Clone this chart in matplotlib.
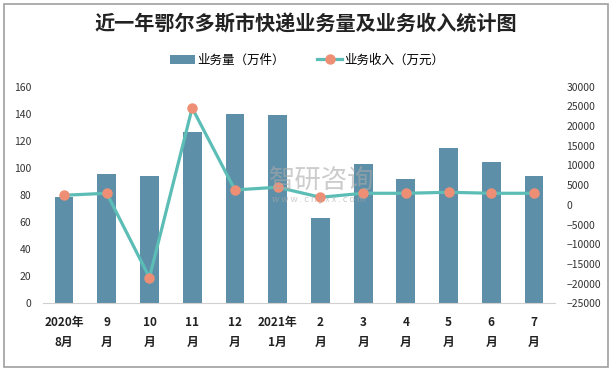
import matplotlib
matplotlib.use("Agg")
import matplotlib.pyplot as plt
from matplotlib.patches import Rectangle

plt.rcParams['font.family'] = ['Noto Sans CJK SC', 'DejaVu Sans']

categories = ["2020年\n8月", "9\n月", "10\n月", "11\n月", "12\n月", "2021年\n1月",
              "2\n月", "3\n月", "4\n月", "5\n月", "6\n月", "7\n月"]
volume = [78.3, 95.7, 93.8, 126.3, 139.6, 138.8, 62.8, 102.7, 91.6, 114.5, 104.1, 93.8]
revenue = [2420, 2930, -18460, 24580, 3780, 4460, 1910, 2930, 2930, 3180, 2930, 2930]
left_ticks = [0, 20, 40, 60, 80, 100, 120, 140, 160]
right_ticks = list(range(-25000, 30001, 5000))

bar_color = '#5e8fa8'
line_color = '#5bbdb5'
marker_color = '#ee8f75'

fig = plt.figure(figsize=(6.12, 3.71), dpi=100)
ax = fig.add_axes([0.0696, 0.1825, 0.838, 0.584])
x = list(range(len(categories)))
ax.bar(x, volume, width=0.44, color=bar_color, zorder=2, label='业务量（万件）')
ax.set_xlim(-0.5, len(categories) - 0.5)
ax.set_ylim(0, 160)
ax.set_yticks(left_ticks)
ax.set_xticks(x)
ax.set_xticklabels(categories, fontweight='bold', fontsize=8.5, linespacing=1.75)
ax.tick_params(axis='y', length=0, labelsize=7.5, colors='#333333', pad=8)
ax.tick_params(axis='x', length=0, pad=9, colors='#222222')
for s in ['top', 'right', 'left']:
    ax.spines[s].set_visible(False)
ax.spines['bottom'].set_color('#d0d0d0')

ax2 = ax.twinx()
ax2.plot(x, revenue, color=line_color, lw=2.3, marker='o', markersize=6.5,
         markerfacecolor=marker_color, markeredgecolor=marker_color, zorder=3,
         label='业务收入（万元）')
ax2.set_ylim(-25000, 30000)
ax2.set_yticks(right_ticks)
ax2.tick_params(axis='y', length=0, labelsize=7.5, colors='#333333', pad=8)
for s in ['top', 'right', 'left', 'bottom']:
    ax2.spines[s].set_visible(False)

fig.text(0.5, 0.935, '近一年鄂尔多斯市快递业务量及业务收入统计图', ha='center', va='center',
         fontsize=14.5, fontweight='bold', color='#222222')

h1, l1 = ax.get_legend_handles_labels()
h2, l2 = ax2.get_legend_handles_labels()
fig.legend(h1 + h2, l1 + l2, loc='center', bbox_to_anchor=(0.502, 0.838), ncol=2,
           frameon=False, fontsize=9, handlelength=2.0, columnspacing=2.6,
           handletextpad=0.2)

# watermark
fig.text(0.526, 0.515, '智研咨询', ha='center', va='center', fontsize=19,
         color='#aaaaaa', alpha=0.6)
fig.text(0.52, 0.462, 'w w w . c h y x x . c o m', ha='center', va='center', fontsize=6.5,
         color='#aaaaaa', alpha=0.6)

fig.patches.append(Rectangle((0.006, 0.012), 0.988, 0.976, transform=fig.transFigure,
                             fill=False, edgecolor='#a0a0a0', lw=1.2))

fig.savefig('out.png', dpi=100)
